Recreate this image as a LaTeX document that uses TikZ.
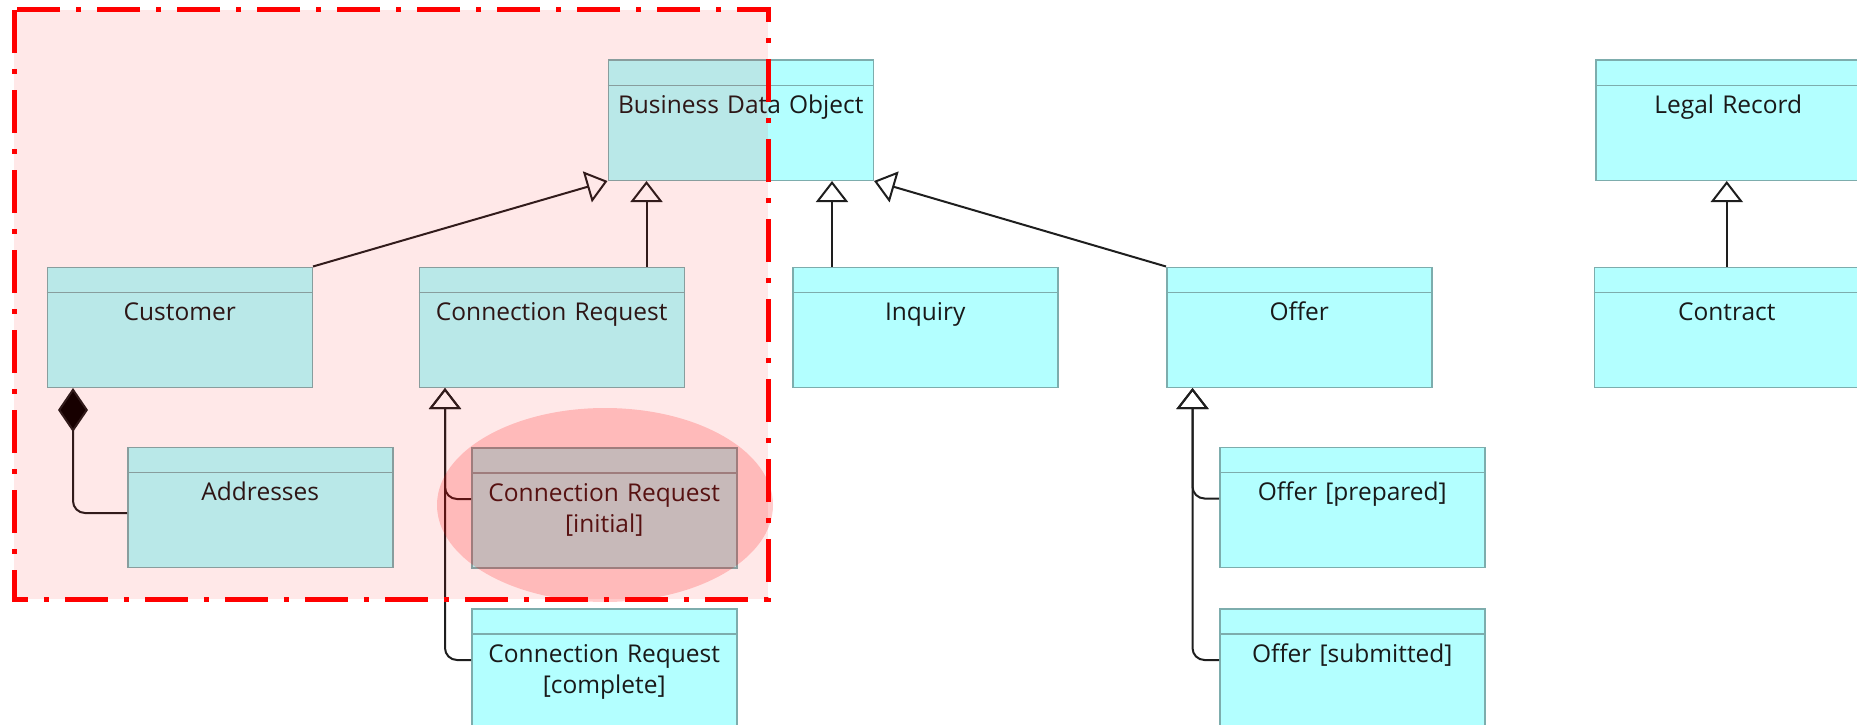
\documentclass[tikz,border=0pt]{standalone}
\usepackage{fontspec}
\setmainfont{Open Sans}
\usetikzlibrary{arrows.meta}

\definecolor{objfill}{HTML}{B3FFFF}
\definecolor{objline}{HTML}{7DADAD}
\definecolor{linkcol}{HTML}{1E1E1E}
\definecolor{markred}{HTML}{FF0000}

\tikzset{
  dataobj/.style={draw=objline, fill=objfill, line width=1.5pt, minimum width=265pt,
    minimum height=120pt, inner sep=0pt, anchor=north west},
  objtext/.style={text width=265pt, align=center, anchor=base, inner sep=0pt,
    font=\fontsize{24.5}{31}\selectfont, text=black!90},
  gen/.style={draw=linkcol, line width=2pt, rounded corners=12pt,
    -{Triangle[open, length=21pt, width=32pt]}},
  comp/.style={draw=linkcol, line width=2pt, rounded corners=12pt,
    {Diamond[length=44pt, width=30pt, fill=black]}-}
}

\begin{document}
\begin{tikzpicture}[x=1pt, y=-1pt]
        \useasboundingbox (0,0) rectangle (1857,725);

        % data objects
        \foreach \nm/\px/\py/\txt in {
            bdo/607.5/59.5/{Business Data Object},
            legal/1595/59.5/{Legal Record},
            cust/46.5/266.5/{Customer},
            creq/418.5/266.5/{Connection Request},
            inq/792/266.5/{Inquiry},
            offer/1166/266.5/{Offer},
            contract/1593.5/266.5/{Contract},
            addr/127/446.5/{Addresses},
            crinit/471/447/{Connection Request\\{[initial]}},
            offprep/1219/446.5/{Offer [prepared]},
            crcomp/471/608/{Connection Request\\{[complete]}},
            offsub/1219/608/{Offer [submitted]}} {
          \node[dataobj] (\nm) at (\px, \py) {};
          \draw[objline, line width=1.5pt] ([yshift=-26pt]\nm.north west) -- ([yshift=-26pt]\nm.north east);
          \node[objtext] (\nm-txt) at ([yshift=-54pt]\nm.north) {\txt};
        }

        % generalizations
        \draw[gen] (cust.north east) -- (bdo.south west);
        \draw[gen] ([xshift=-38.5pt]creq.north east) -- ([xshift=-38.5pt]creq.north east |- bdo.south);
        \draw[gen] ([xshift=40pt]inq.north west) -- ([xshift=40pt]inq.north west |- bdo.south);
        \draw[gen] (offer.north west) -- (bdo.south east);
        \draw[gen] (contract.north) -- (contract.north |- legal.south);

        \draw[gen] ([yshift=-52pt]crinit.north west) -| ([xshift=26.5pt]creq.south west);
        \draw[gen] ([yshift=-52pt]crcomp.north west) -| ([xshift=26.5pt]creq.south west);
        \draw[gen] ([yshift=-52pt]offprep.north west) -| ([xshift=26.5pt]offer.south west);
        \draw[gen] ([yshift=-52pt]offsub.north west) -| ([xshift=26.5pt]offer.south west);

        % composition
        \draw[comp] ([xshift=26.5pt]cust.south west) |- ([yshift=-66.5pt]addr.north west);

        % highlight
        \fill[markred, opacity=0.09] (14,10) rectangle (768,599);
        \fill[markred, opacity=0.2] (605,505) ellipse [x radius=168pt, y radius=97pt];
        \draw[markred, line width=5pt, dash pattern=on 43pt off 16pt on 5pt off 16pt] (14,10) rectangle (768,599);
      \end{tikzpicture}
\end{document}
